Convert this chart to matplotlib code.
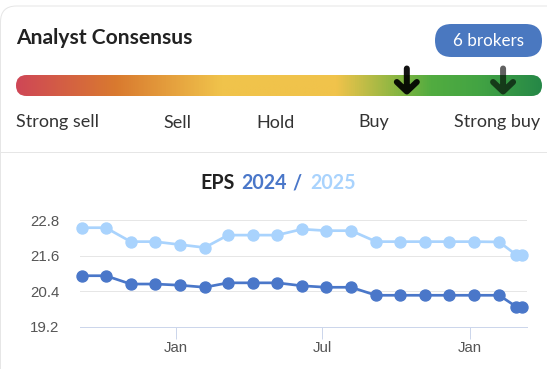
import matplotlib
matplotlib.use('Agg')
import matplotlib.pyplot as plt
from matplotlib.patches import FancyBboxPatch, PathPatch
from matplotlib.path import Path
from matplotlib.colors import LinearSegmentedColormap
import numpy as np
import pandas as pd

# ---------------- data ----------------
title = 'Analyst Consensus'
broker_label = '6 brokers'
scale_labels = ['Strong sell', 'Sell', 'Hold', 'Buy', 'Strong buy']
consensus_positions = [0.743, 0.926]      # fraction along the gauge
consensus_alpha = [0.93, 0.62]

chart_title_parts = ['EPS', '2024', '/', '2025']

dates = ['2023-09-06', '2023-10-06', '2023-11-06', '2023-12-06', '2024-01-06',
         '2024-02-06', '2024-03-06', '2024-04-06', '2024-05-06', '2024-06-06',
         '2024-07-06', '2024-08-06', '2024-09-06', '2024-10-06', '2024-11-06',
         '2024-12-06', '2025-01-06', '2025-02-06', '2025-02-27', '2025-03-06']
eps_2024 = [20.92, 20.92, 20.64, 20.64, 20.60, 20.53, 20.68, 20.68, 20.68, 20.58,
            20.53, 20.53, 20.26, 20.26, 20.26, 20.26, 20.26, 20.26, 19.88, 19.88]
eps_2025 = [22.54, 22.54, 22.07, 22.07, 21.97, 21.87, 22.29, 22.29, 22.29, 22.49,
            22.44, 22.44, 22.07, 22.07, 22.07, 22.07, 22.07, 22.06, 21.63, 21.63]
y_ticks = [19.2, 20.4, 21.6, 22.8]
x_ticks = ['2024-01-01', '2024-07-01', '2025-01-01']
x_tick_labels = ['Jan', 'Jul', 'Jan']

# ---------------- style ----------------
W, H = 547, 369
DARK = '#4a77c9'
LIGHT = '#a9d3fd'
PX = 0.72  # points per pixel at dpi 100

fig = plt.figure(figsize=(W / 100, H / 100), dpi=100)
fig.patch.set_facecolor('white')
ov = fig.add_axes([0, 0, 1, 1])
ov.axis('off')
renderer = fig.canvas.get_renderer()


def width_px(t):
    return t.get_window_extent(renderer=renderer).width


def fit(t, target):
    w = width_px(t)
    t.set_fontsize(t.get_fontsize() * target / w)


# card border and separator
card = FancyBboxPatch((0.5, 6), 600, 400, boxstyle='round,pad=0,rounding_size=16',
                      fc='white', ec='#e6e6e6', lw=1 * PX, zorder=0)
ov.add_patch(card)
ov.plot([0, W], [151.5, 151.5], color='#e6e6e6', lw=1 * PX, zorder=1)

# title
t = ov.text(16, 44, title, fontfamily='Lato', fontweight='bold', fontsize=14,
            color='#222222', va='baseline', ha='left')
fit(t, 177)

# badge
badge = FancyBboxPatch((435, 24), 107, 33, boxstyle='round,pad=0,rounding_size=16.5',
                       fc='#4a78c0', ec='none', zorder=2)
ov.add_patch(badge)
bt = ov.text(488.5, 46, broker_label, fontfamily='Lato', fontsize=11, color='white',
             ha='center', va='baseline', zorder=3)
fit(bt, 71)

# gauge gradient bar
bx0, bx1, by0, by1 = 16, 542, 75, 96
stops = [(0.0, '#cf4756'), (0.19, '#d97a2f'), (0.39, '#f0c34b'), (0.61, '#f0c34b'),
         (0.72, '#8db642'), (0.79, '#52ac40'), (0.88, '#43a443'), (1.0, '#268847')]
cmap = LinearSegmentedColormap.from_list('gauge', stops)
grad = np.linspace(0, 1, 512).reshape(1, -1)
im = ov.imshow(grad, cmap=cmap, aspect='auto', extent=(bx0, bx1, by1, by0), zorder=2,
               interpolation='bilinear')
clip = FancyBboxPatch((bx0, by0), bx1 - bx0, by1 - by0,
                      boxstyle='round,pad=0,rounding_size=10.5', fc='none', ec='none')
ov.add_patch(clip)
im.set_clip_path(clip)

# arrows
for p, a in zip(consensus_positions, consensus_alpha):
    x = bx0 + p * (bx1 - bx0)
    verts = [(x, 68.5), (x, 90), (x - 10, 82), (x, 91.5), (x + 10, 82)]
    codes = [Path.MOVETO, Path.LINETO, Path.MOVETO, Path.LINETO, Path.LINETO]
    pp = PathPatch(Path(verts, codes), fill=False, ec='black', alpha=a, lw=6 * PX,
                   capstyle='round', joinstyle='round', zorder=4)
    ov.add_patch(pp)

# scale labels (space-between layout)
lbls = [ov.text(0, 127.5, s, fontfamily='Lato', fontsize=11, color='#333333',
                ha='left', va='baseline') for s in scale_labels]
fit(lbls[0], 83)
for l in lbls[1:]:
    l.set_fontsize(lbls[0].get_fontsize())
widths = [width_px(l) for l in lbls]
gap = ((540 - 16) - sum(widths)) / (len(lbls) - 1)
x = 16
for l, w in zip(lbls, widths):
    l.set_x(x)
    x += w + gap

# chart title
title_colors = ['#222222', DARK, DARK, LIGHT]
title_x = [200.7, 241.0, 292.5, 310.7]
tts = []
for s, c, xx in zip(chart_title_parts, title_colors, title_x):
    tt = ov.text(xx, 189.3, s, fontfamily='Lato', fontweight='bold', fontsize=13,
                 color=c, ha='left', va='baseline')
    tts.append(tt)
fit(tts[0], 34.3)
for tt in tts[1:]:
    tt.set_fontsize(tts[0].get_fontsize())

ov.set_xlim(0, W)
ov.set_ylim(H, 0)

# ---------------- line chart ----------------
ax = fig.add_axes([80 / W, 1 - 326.7 / H, 447.3 / W, 106.7 / H])
ax.set_facecolor('none')
d = pd.to_datetime(dates)
ax.plot(d, eps_2025, color=LIGHT, lw=2.7 * PX, marker='o', ms=11 * PX,
        clip_on=False, zorder=3)
ax.plot(d, eps_2024, color=DARK, lw=2.7 * PX, marker='o', ms=11 * PX,
        clip_on=False, zorder=4)
ax.set_ylim(19.2, 22.8)
ax.set_yticks(y_ticks)
ax.set_yticklabels([f'{v:.1f}' for v in y_ticks])
ax.set_xlim(pd.Timestamp('2023-09-04'), pd.Timestamp('2025-03-13'))
ax.set_xticks(pd.to_datetime(x_ticks))
ax.set_xticklabels(x_tick_labels)
for s in ['top', 'right', 'left']:
    ax.spines[s].set_visible(False)
ax.spines['bottom'].set_color('#ccd6eb')
ax.spines['bottom'].set_linewidth(1 * PX)
ax.set_axisbelow(True)
ax.grid(axis='y', color='#e6e6e6', lw=1 * PX)
ax.grid(axis='x', visible=False)
ax.tick_params(axis='y', length=0, pad=15, labelcolor='#555555', labelsize=10.8)
ax.tick_params(axis='x', length=11.6 * PX, width=1 * PX, color='#ccd6eb', pad=2,
               labelcolor='#555555', labelsize=10.8)
for lab in ax.get_xticklabels() + ax.get_yticklabels():
    lab.set_fontfamily('Liberation Sans')

fig.savefig('out.png', dpi=100, facecolor='white')
